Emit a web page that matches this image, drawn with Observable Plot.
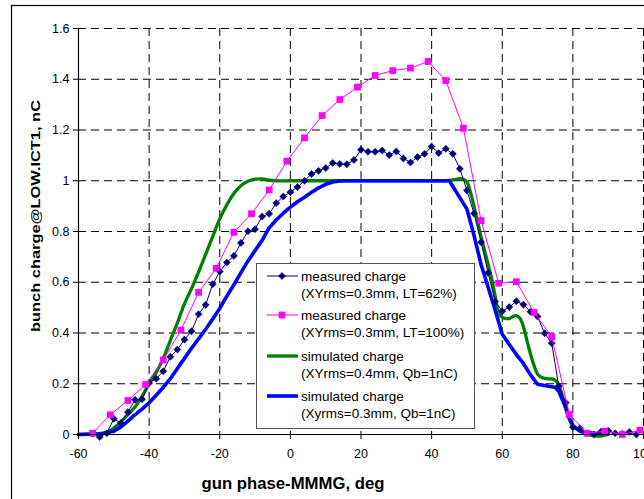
<!DOCTYPE html>
<html><head><meta charset="utf-8">
<script src="https://cdn.jsdelivr.net/npm/d3@7"></script>
<script src="https://cdn.jsdelivr.net/npm/@observablehq/plot@0.6"></script>
<style>body{margin:0;background:#fff;} svg{display:block;}</style>
</head><body><div id="chart"></div>
<script>
const xTicks = [-60,-40,-20,0,20,40,60,80,100];
const yTicks = [0,0.2,0.4,0.6,0.8,1,1.2,1.4,1.6];
const yTickLabels = ["0","0.2","0.4","0.6","0.8","1","1.2","1.4","1.6"];

// measured charge (XYrms=0.3mm, LT=62%)
const m62X = [-56,-54,-52,-50,-48,-46,-44,-42,-40,-38,-36,-34,-32,-30,-28,-26,-24,-22,-20,-18,-16,-14,-12,-10,-8,-6,-4,-2,0,2,4,6,8,10,12,14,16,18,20,22,24,26,28,30,32,34,36,38,40,42,44,46,48,50,52,54,56,58,60,62,64,66,68,70,72,74,76,78,80,82,84,86,88,90,92,94,96,98];
const m62Y = [0.003,-0.01,0.005,0.062,0.045,0.088,0.137,0.139,0.203,0.22,0.249,0.306,0.335,0.374,0.407,0.474,0.511,0.592,0.642,0.678,0.704,0.755,0.801,0.809,0.859,0.87,0.912,0.938,0.955,0.975,1.0,1.027,1.039,1.05,1.07,1.066,1.065,1.082,1.122,1.114,1.114,1.119,1.101,1.115,1.088,1.072,1.093,1.106,1.135,1.109,1.126,1.106,1.047,0.962,0.871,0.758,0.637,0.524,0.486,0.502,0.525,0.512,0.484,0.465,0.399,0.36,0.191,0.125,0.029,0.025,0.005,0.0,0.012,0.015,0.005,0.003,0.01,0.0];

// measured charge (XYrms=0.3mm, LT=100%)
const m100X = [-56,-51,-46,-41,-36,-31,-26,-21,-16,-11,-6,-1,4,9,14,19,24,29,34,39,44,49,54,59,64,69,74,79,84,89,94,99];
const m100Y = [0.005,0.078,0.134,0.197,0.294,0.411,0.56,0.655,0.797,0.87,0.964,1.077,1.169,1.257,1.32,1.369,1.415,1.434,1.444,1.47,1.395,1.207,0.843,0.596,0.602,0.481,0.385,0.079,0.005,0.013,0.0,0.017];

// simulated charge (XYrms=0.4mm, Qb=1nC)
const s04X = [-60,-56,-52,-50,-48,-46,-44,-42,-40,-38,-36,-34,-32,-30,-28,-26,-24,-22,-20,-18,-16,-14,-12,-10,-8,-6,-4,0,10,20,30,40,44,46,48,49,50,51,52,53,54,55,56,57,58,59,60,61,62,63,64,65,66,67,68,69,70,71,72,73,74,75,76,77,78,79,80,82,84,86,88,90];
const s04Y = [0,0.002,0.008,0.025,0.05,0.078,0.108,0.15,0.2,0.245,0.3,0.37,0.44,0.515,0.575,0.64,0.71,0.78,0.85,0.905,0.95,0.98,0.998,1.006,1.007,1.002,1.0,1.0,1.0,1.0,1.0,1.0,1.0,1.003,1.008,1.006,0.995,0.955,0.9,0.84,0.78,0.725,0.67,0.615,0.545,0.48,0.462,0.457,0.457,0.465,0.468,0.458,0.425,0.37,0.318,0.272,0.238,0.226,0.221,0.219,0.219,0.214,0.195,0.155,0.1,0.06,0.033,0.014,0.002,-0.005,-0.006,0];

// simulated charge (Xyrms=0.3mm, Qb=1nC)
const s03X = [-60,-54,-52,-50,-48,-46,-44,-42,-40,-38,-36,-34,-32,-30,-28,-26,-24,-22,-20,-18,-16,-14,-12,-10,-8,-6,-4,-2,0,2,4,6,8,10,12,14,16,30,45,50,52,54,56,58,60,62,64,66,68,70,72,74,75,76,78,79,80,82,84,86,88,90];
const s03Y = [0,0.003,0.007,0.013,0.03,0.053,0.078,0.1,0.125,0.155,0.186,0.22,0.26,0.3,0.34,0.377,0.415,0.455,0.497,0.545,0.59,0.638,0.684,0.725,0.765,0.815,0.845,0.872,0.896,0.917,0.935,0.955,0.972,0.986,0.995,0.999,1.0,1.0,1.0,0.888,0.785,0.67,0.58,0.49,0.395,0.355,0.315,0.28,0.235,0.198,0.193,0.188,0.185,0.17,0.105,0.065,0.035,0.013,0.008,0.005,0.004,0.004];

const seriesNames = ["measured charge","measured charge","simulated charge","simulated charge"];
const seriesDesc = ["(XYrms=0.3mm, LT=62%)","(XYrms=0.3mm, LT=100%)","(XYrms=0.4mm, Qb=1nC)","(Xyrms=0.3mm, Qb=1nC)"];
const seriesColors = ["#000080","#FF00FF","#008000","#0000FF"];

const zip = (xs, ys) => xs.map((x, i) => ({x, y: ys[i]}));
const m62 = zip(m62X, m62Y), m100 = zip(m100X, m100Y), s04 = zip(s04X, s04Y), s03 = zip(s03X, s03Y);

const dash = "8,5";
const chart = Plot.plot({
  width: 644, height: 499,
  marginLeft: 78, marginRight: 1, marginTop: 28, marginBottom: 65,
  style: {fontFamily: "Arial, 'Liberation Sans', sans-serif", fontSize: "12.5px", color: "#000", background: "#fff"},
  x: {domain: [-60, 100]},
  y: {domain: [0, 1.6]},
  marks: [
    Plot.gridY(yTicks.filter(d => d > 0), {stroke: "#000", strokeOpacity: 1, strokeDasharray: dash}),
    Plot.gridX(xTicks.filter(d => d > -60), {stroke: "#000", strokeOpacity: 1, strokeDasharray: dash}),
    Plot.line(s04, {x: "x", y: "y", stroke: seriesColors[2], strokeWidth: 3.3, curve: "catmull-rom"}),
    Plot.line(s03, {x: "x", y: "y", stroke: seriesColors[3], strokeWidth: 3.6, curve: "linear"}),
    Plot.line(m62, {x: "x", y: "y", stroke: seriesColors[0], strokeWidth: 1}),
    Plot.dot(m62, {x: "x", y: "y", symbol: "diamond2", r: 3.2, fill: seriesColors[0], stroke: seriesColors[0], strokeWidth: 0.5}),
    Plot.line(m100, {x: "x", y: "y", stroke: seriesColors[1], strokeWidth: 1}),
    Plot.dot(m100, {x: "x", y: "y", symbol: "square", r: 3.8, fill: seriesColors[1], stroke: "none"}),
    Plot.ruleX([-60], {stroke: "#000", strokeWidth: 1.2}),
    Plot.ruleY([0], {stroke: "#000", strokeWidth: 1.2}),
    Plot.axisY({ticks: yTicks, tickSize: 5, tickPadding: 4, label: null,
      tickFormat: d => yTickLabels[yTicks.indexOf(d)]}),
    Plot.axisX({ticks: xTicks, tickSize: 5, tickPadding: 10, label: null, tickFormat: d => String(d)})
  ]
});
document.getElementById("chart").appendChild(chart);

const svg = d3.select(chart);
const FONT = "Arial, 'Liberation Sans', sans-serif";
// outer chart border
svg.append("rect").attr("x", 11.5).attr("y", 5.5).attr("width", 700).attr("height", 600)
  .attr("fill", "none").attr("stroke", "#000").attr("stroke-width", 1.2);
// axis titles
svg.append("text").attr("x", 293).attr("y", 483).attr("text-anchor", "middle").attr("dominant-baseline", "central")
  .attr("font-family", FONT).attr("font-weight", "bold").attr("font-size", 16)
  .attr("textLength", 183).attr("lengthAdjust", "spacingAndGlyphs")
  .text("gun phase-MMMG, deg");
svg.append("text").attr("transform", "translate(35,216) rotate(-90)").attr("text-anchor", "middle").attr("dominant-baseline", "central")
  .attr("font-family", FONT).attr("font-weight", "bold").attr("font-size", 13.5)
  .attr("textLength", 232).attr("lengthAdjust", "spacingAndGlyphs")
  .text("bunch charge@LOW.ICT1, nC");

// legend
const lg = svg.append("g").attr("font-family", FONT).attr("font-size", 13.5).attr("text-anchor", "start");
lg.append("rect").attr("x", 256.5).attr("y", 263.5).attr("width", 218).attr("height", 165)
  .attr("fill", "#fff").attr("stroke", "#555").attr("stroke-width", 1);
const rowY = [276, 315, 356, 396];
const lineW = [1, 1, 3.3, 3.6];
seriesNames.forEach((name, i) => {
  const y = rowY[i];
  lg.append("line").attr("x1", 267).attr("x2", 298).attr("y1", y).attr("y2", y)
    .attr("stroke", seriesColors[i]).attr("stroke-width", lineW[i]);
  if (i === 0) {
    lg.append("path").attr("d", d3.symbol(d3.symbolDiamond2, Math.PI * 3.2 * 3.2)()).attr("transform", `translate(282,${y})`)
      .attr("fill", seriesColors[0]).attr("stroke", seriesColors[0]).attr("stroke-width", 0.5);
  } else if (i === 1) {
    lg.append("path").attr("d", d3.symbol(d3.symbolSquare, Math.PI * 3.8 * 3.8)()).attr("transform", `translate(282,${y})`)
      .attr("fill", seriesColors[1]);
  }
  lg.append("text").attr("x", 301).attr("y", y).attr("text-anchor", "start").attr("dominant-baseline", "central").text(name);
  lg.append("text").attr("x", 301).attr("y", y + 17).attr("text-anchor", "start").attr("dominant-baseline", "central").text(seriesDesc[i]);
});
</script>
</body></html>
